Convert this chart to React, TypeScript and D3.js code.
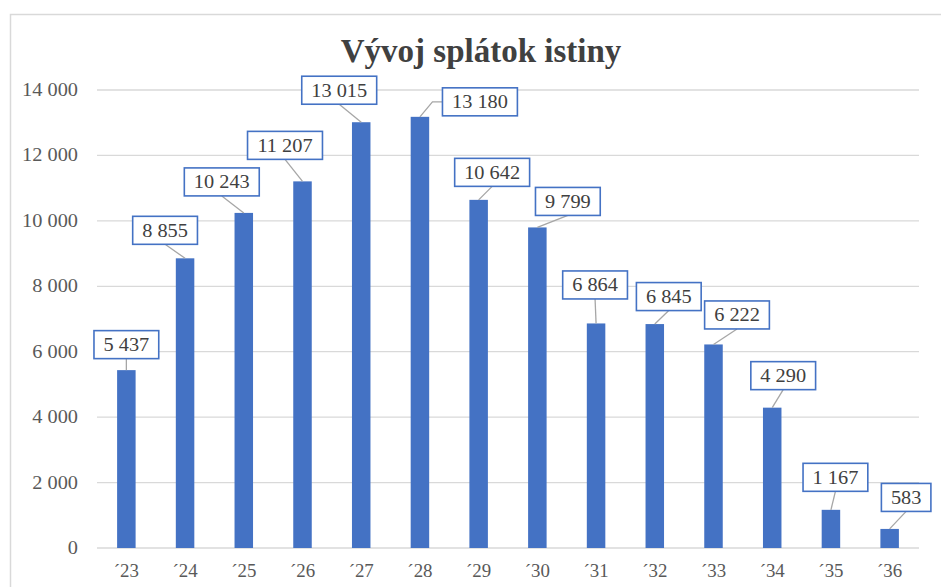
import React from "react";
import * as d3 from "d3";

const categories = ["´23", "´24", "´25", "´26", "´27", "´28", "´29", "´30", "´31", "´32", "´33", "´34", "´35", "´36"];
const values = [5437, 8855, 10243, 11207, 13015, 13180, 10642, 9799, 6864, 6845, 6222, 4290, 1167, 583];
const yTicks = [0, 2000, 4000, 6000, 8000, 10000, 12000, 14000];
const title = "Vývoj splátok istiny";
// label box centre offsets from the bar top (layout only)
const labelOffsets: [number, number][] = [
  [0, -25.5], [-20, -28], [-22, -31], [-17.5, -36], [-22, -32], [60, -15], [13.5, -27.5],
  [30.5, -26], [-1, -38.5], [14, -27.5], [23.5, -29.5], [11, -32], [4.5, -32.5], [16.5, -31.5],
];

const W = 941, H = 587;
const left = 97, right = 919, top = 90, bottom = 548;
const barW = 18.5;
const fontSize = 18;
const sx = 1.13;
const FF = "Liberation Serif, serif";
const fmt = (v: number) => d3.format(",")(v).replace(/,/g, " ");
const textW = (s: string) => {
  let w = 0;
  for (const ch of s) w += ch === " " ? 0.25 : 0.5;
  return w * fontSize * sx;
};

export default function App() {
  const x = d3.scaleBand<string>().domain(categories).range([left, right]).padding(0);
  const y = d3.scaleLinear().domain([0, 14000]).range([bottom, top]);
  const bw = x.bandwidth();

  return (
    <svg width={W} height={H} style={{ position: "absolute", left: 0, top: 0, background: "#fff", fontFamily: FF }}>
      <rect x={0} y={0} width={W} height={H} fill="#fff" />
      <path d={`M10.5,${H + 5} V14.5 H${W + 5}`} fill="none" stroke="#d9d9d9" strokeWidth={1.5} />
      <text x={481} y={62} textAnchor="middle" fontSize={33} fontWeight="bold" fill="#404040" style={{ fontFamily: FF }}>{title}</text>
      {yTicks.map((t) => (
        <g key={t}>
          <line x1={left} x2={right} y1={y(t)} y2={y(t)} stroke="#d9d9d9" strokeWidth={1.3} />
          <text transform={`translate(78,${y(t) + 6}) scale(${sx},1)`} textAnchor="end" fontSize={fontSize} fill="#595959" style={{ fontFamily: FF }}>
            {fmt(t)}
          </text>
        </g>
      ))}
      {categories.map((c) => {
        const cx = (x(c) as number) + bw / 2;
        return (
          <text key={c} transform={`translate(${cx},577) scale(1.05,1)`} textAnchor="middle" fontSize={fontSize} fill="#595959" style={{ fontFamily: FF }}>
            {c}
          </text>
        );
      })}
      {values.map((v, i) => {
        const c = categories[i];
        const cx = (x(c) as number) + bw / 2;
        return <rect key={c} x={cx - barW / 2} y={y(v)} width={barW} height={bottom - y(v)} fill="#4472C4" />;
      })}
      {values.map((v, i) => {
        const c = categories[i];
        const cx = (x(c) as number) + bw / 2;
        const ty = y(v);
        const label = fmt(v);
        const bwid = textW(label) + 19;
        const bh = 28;
        const [dx, dy] = labelOffsets[i];
        const bx = cx + dx, by = ty + dy;
        const l = bx - bwid / 2, r = bx + bwid / 2, tp = by - bh / 2, bt = by + bh / 2;
        let leader: string;
        if (cx < l && ty > tp && ty - 20 < bt) {
          leader = `M${cx},${ty} L${l - 10},${by} L${l},${by}`;
        } else {
          leader = `M${cx},${ty} L${bx},${bt}`;
        }
        return (
          <g key={"l" + c}>
            <path d={leader} fill="none" stroke="#a6a6a6" strokeWidth={1.3} />
            <rect x={l} y={tp} width={bwid} height={bh} fill="#fff" stroke="#4472C4" strokeWidth={1.6} />
            <text transform={`translate(${bx},${by + 6.5}) scale(${sx},1)`} textAnchor="middle" fontSize={fontSize} fill="#404040" style={{ fontFamily: FF }}>
              {label}
            </text>
          </g>
        );
      })}
    </svg>
  );
}
